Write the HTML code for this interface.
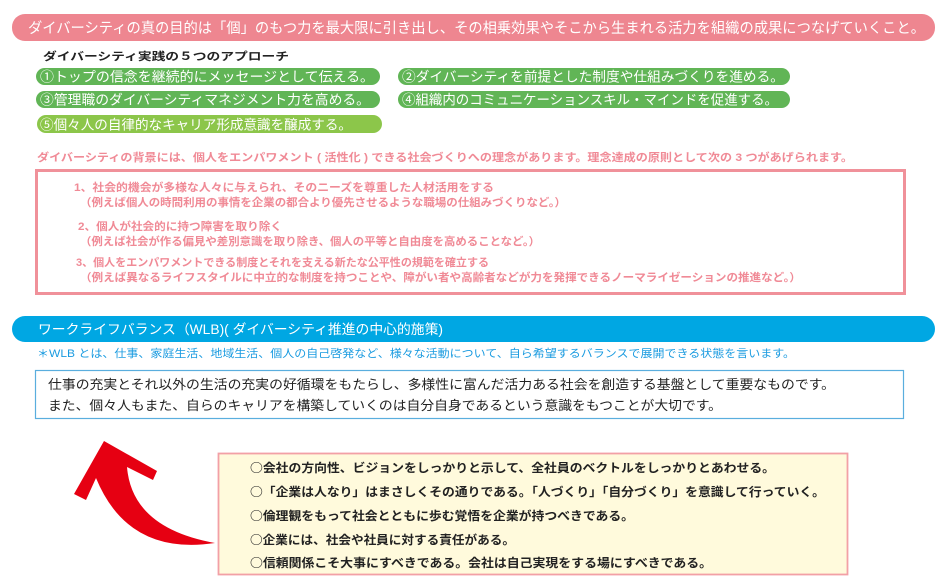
<!DOCTYPE html>
<html><head><meta charset="utf-8"><style>
html,body{margin:0;padding:0;background:#fff;}
svg{display:block;}
text{font-family:"Liberation Sans","Noto Sans CJK JP",sans-serif;}
.cjk text{font-family:"Noto Sans CJK JP","Liberation Sans",sans-serif;}
</style></head><body>
<svg width="945" height="583" viewBox="0 0 945 583" xmlns="http://www.w3.org/2000/svg">
<rect x="12" y="14" width="923" height="27" rx="13" fill="#ee8690"/>
<text x="28" y="33" font-size="14.5" fill="#fff" textLength="897" lengthAdjust="spacingAndGlyphs">ダイバーシティの真の目的は「個」のもつ力を最大限に引き出し、その相乗効果やそこから生まれる活力を組織の成果につなげていくこと。</text>
<text x="43" y="60" font-size="11" font-weight="bold" fill="#222" textLength="246" lengthAdjust="spacingAndGlyphs">ダイバーシティ実践の５つのアプローチ</text>
<rect x="36" y="68" width="344" height="17" rx="8.5" fill="#61b556"/>
<rect x="398" y="68" width="392" height="17" rx="8.5" fill="#61b556"/>
<rect x="36" y="91" width="344" height="17" rx="8.5" fill="#61b556"/>
<rect x="398" y="91" width="392" height="17" rx="8.5" fill="#61b556"/>
<rect x="37" y="115" width="345" height="18" rx="9" fill="#8cc64a"/>
<g class="cjk" font-size="13.5" fill="#fff">
<text x="40" y="81.5" textLength="334" lengthAdjust="spacingAndGlyphs">①トップの信念を継続的にメッセージとして伝える。</text>
<text x="402" y="81.5" textLength="382" lengthAdjust="spacingAndGlyphs">②ダイバーシティを前提とした制度や仕組みづくりを進める。</text>
<text x="40" y="104.5" textLength="330" lengthAdjust="spacingAndGlyphs">③管理職のダイバーシティマネジメント力を高める。</text>
<text x="402" y="104.5" textLength="376" lengthAdjust="spacingAndGlyphs">④組織内のコミュニケーションスキル・マインドを促進する。</text>
<text x="40" y="129.5" textLength="312" lengthAdjust="spacingAndGlyphs">⑤個々人の自律的なキャリア形成意識を醸成する。</text>
</g>
<text x="37" y="161" font-size="11" font-weight="bold" fill="#f08a96" textLength="816" lengthAdjust="spacingAndGlyphs">ダイバーシティの背景には、個人をエンパワメント ( 活性化 ) できる社会づくりへの理念があります。理念達成の原則として次の 3 つがあげられます。</text>
<rect x="36.5" y="170.5" width="868" height="123" fill="none" stroke="#f0919a" stroke-width="3"/>
<g font-size="11" font-weight="bold" fill="#f08a96">
<text x="74" y="191" textLength="420" lengthAdjust="spacingAndGlyphs">1、社会的機会が多様な人々に与えられ、そのニーズを尊重した人材活用をする</text>
<text x="80" y="206" textLength="486" lengthAdjust="spacingAndGlyphs">（例えば個人の時間利用の事情を企業の都合より優先させるような職場の仕組みづくりなど。）</text>
<text x="78" y="230" textLength="204" lengthAdjust="spacingAndGlyphs">2、個人が社会的に持つ障害を取り除く</text>
<text x="80" y="245" textLength="460" lengthAdjust="spacingAndGlyphs">（例えば社会が作る偏見や差別意識を取り除き、個人の平等と自由度を高めることなど。）</text>
<text x="76" y="266" textLength="413" lengthAdjust="spacingAndGlyphs">3、個人をエンパワメントできる制度とそれを支える新たな公平性の規範を確立する</text>
<text x="80" y="281" textLength="721" lengthAdjust="spacingAndGlyphs">（例えば異なるライフスタイルに中立的な制度を持つことや、障がい者や高齢者などが力を発揮できるノーマライゼーションの推進など。）</text>
</g>
<rect x="12" y="316" width="923" height="26" rx="13" fill="#00a7e3"/>
<text x="38" y="334" font-size="13.5" fill="#fff" textLength="405" lengthAdjust="spacingAndGlyphs">ワークライフバランス（WLB)( ダイバーシティ推進の中心的施策)</text>
<text x="37" y="357" font-size="11" fill="#1a9be0" textLength="758" lengthAdjust="spacingAndGlyphs">＊WLB とは、仕事、家庭生活、地域生活、個人の自己啓発など、様々な活動について、自ら希望するバランスで展開できる状態を言います。</text>
<rect x="35.5" y="370.5" width="868" height="48" fill="#fff" stroke="#5aaede" stroke-width="1.2"/>
<text x="48" y="389" font-size="13" fill="#222" textLength="787" lengthAdjust="spacingAndGlyphs">仕事の充実とそれ以外の生活の充実の好循環をもたらし、多様性に富んだ活力ある社会を創造する基盤として重要なものです。</text>
<text x="48" y="410" font-size="13" fill="#222" textLength="674" lengthAdjust="spacingAndGlyphs">また、個々人もまた、自らのキャリアを構築していくのは自分自身であるという意識をもつことが大切です。</text>
<path d="M104,441 L157,471 L153,480 L127,467 Q132,528 215,543 Q128,556 96,478 L86,500 L74,494 Z" fill="#e60012"/>
<rect x="218.5" y="453.5" width="629" height="121" fill="#fffadc" stroke="#f2a0a6" stroke-width="1.8"/>
<g class="cjk" font-size="12" font-weight="bold" fill="#222">
<text x="250" y="472" textLength="525" lengthAdjust="spacingAndGlyphs">○会社の方向性、ビジョンをしっかりと示して、全社員のベクトルをしっかりとあわせる。</text>
<text x="250" y="496" textLength="575" lengthAdjust="spacingAndGlyphs">○「企業は人なり」はまさしくその通りである。「人づくり」「自分づくり」を意識して行っていく。</text>
<text x="250" y="520" textLength="384" lengthAdjust="spacingAndGlyphs">○倫理観をもって社会とともに歩む覚悟を企業が持つべきである。</text>
<text x="250" y="544" textLength="265" lengthAdjust="spacingAndGlyphs">○企業には、社会や社員に対する責任がある。</text>
<text x="250" y="567" textLength="462" lengthAdjust="spacingAndGlyphs">○信頼関係こそ大事にすべきである。会社は自己実現をする場にすべきである。</text>
</g>
</svg>
</body></html>
